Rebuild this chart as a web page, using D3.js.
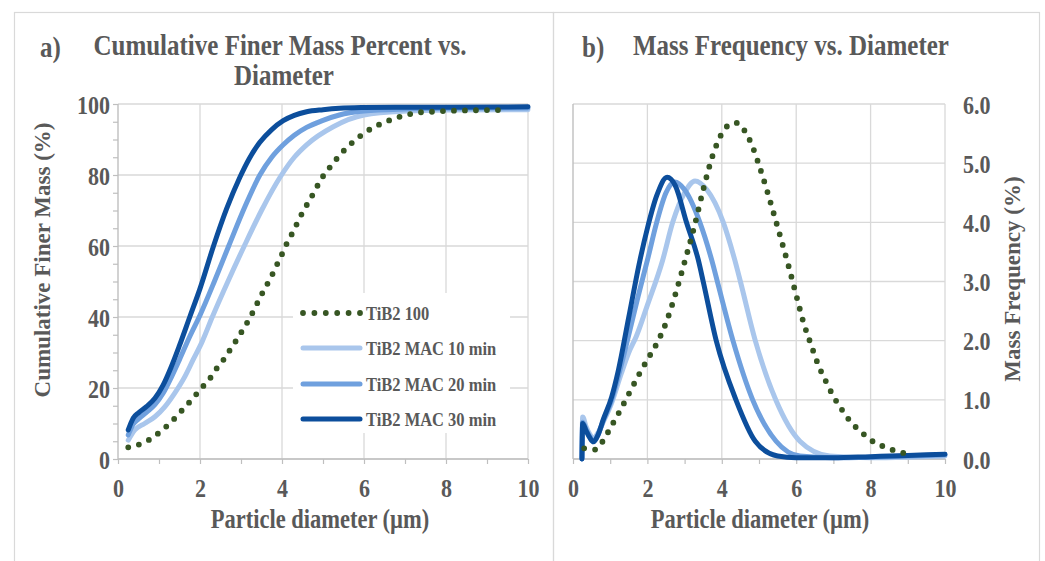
<!DOCTYPE html>
<html><head><meta charset="utf-8">
<script src="https://cdn.jsdelivr.net/npm/d3@7"></script>
<style>body{margin:0;background:#fff}svg{display:block}</style>
</head><body>
<svg id="c" width="1045" height="561"></svg>
<script>
// ---------------- DATA ----------------
const seriesNames = ["TiB2 100", "TiB2 MAC 10 min", "TiB2 MAC 20 min", "TiB2 MAC 30 min"];
const seriesColors = ["#375623", "#a9c6ec", "#6fa0de", "#0c4e9c"];

// a) cumulative finer mass (%) vs diameter (µm)
const cum100 = [[0.25,3.3],[0.49,4.0],[0.75,5.35],[1.0,7.4],[1.22,9.6],[1.42,11.9],[1.63,14.6],[1.83,17.1],[2.01,19.7],[2.22,22.3],[2.38,25.1],[2.57,27.9],[2.73,30.7],[2.89,33.5],[3.04,36.3],[3.19,39.2],[3.33,42.3],[3.46,45.4],[3.6,48.4],[3.74,51.4],[3.87,54.6],[4.0,57.7],[4.12,60.8],[4.26,63.8],[4.39,66.9],[4.52,69.9],[4.68,73],[4.82,76],[4.97,79.1],[5.15,81.9],[5.33,84.5],[5.52,87],[5.74,89.4],[5.97,91.5],[6.21,93.3],[6.49,94.8],[6.76,96],[7.04,96.9],[7.32,97.6],[7.63,97.8],[7.91,98.0],[8.5,98.2],[9.3,98.3]];
const cumMac10 = [[0.25,5.3],[0.41,8.2],[0.65,10],[0.9,11.9],[1.14,14.7],[1.38,18.5],[1.63,23.2],[1.83,27.9],[2.05,33],[2.3,40],[2.7,50.5],[3.1,60.5],[3.5,70],[3.96,79.5],[4.3,85],[4.6,88.5],[5.25,93.6],[6.0,96.9],[7.04,98.0],[8,98.3],[10,98.4]];
const cumMac20 = [[0.25,6.8],[0.37,9.8],[0.5,11.3],[0.7,13.2],[0.9,15.3],[1.1,18.5],[1.3,23],[1.5,28],[1.75,34.5],[2.0,40.5],[2.35,50],[2.7,60],[3.1,71.2],[3.46,80],[3.75,85],[4.03,88.5],[4.3,91.2],[4.6,93.4],[5.0,95.4],[5.4,96.9],[6.0,98.0],[7,98.6],[8,98.8],[10,98.9]];
const cumMac30 = [[0.25,8.2],[0.37,11.5],[0.5,13.0],[0.7,14.8],[0.9,17.1],[1.1,20.8],[1.3,26],[1.5,32],[1.75,40],[2.0,48],[2.33,60],[2.65,70.5],[2.97,79.3],[3.2,84.6],[3.46,89.2],[3.75,92.8],[4.03,95.3],[4.3,96.8],[4.6,97.8],[5.0,98.4],[5.4,98.8],[6.0,99.0],[7,99.1],[8,99.1],[10,99.2]];

// b) mass frequency (%) vs diameter (µm)
const freq100 = [[0.3,0.18],[0.6,0.16],[0.8,0.3],[1.0,0.52],[1.25,0.8],[1.5,1.1],[1.75,1.4],[2.0,1.68],[2.25,1.95],[2.5,2.3],[2.75,2.78],[3.0,3.33],[3.25,3.9],[3.5,4.55],[3.75,5.12],[4.0,5.5],[4.2,5.65],[4.4,5.68],[4.6,5.56],[4.8,5.32],[5.0,4.97],[5.2,4.57],[5.4,4.14],[5.6,3.7],[5.8,3.25],[6.0,2.77],[6.2,2.3],[6.4,1.93],[6.6,1.58],[6.8,1.31],[7.0,1.06],[7.2,0.86],[7.4,0.68],[7.6,0.54],[7.85,0.4],[8.1,0.28],[8.4,0.2],[8.7,0.13],[9.1,0.08]];
const freqMac10 = [[0.24,0],[0.26,0.71],[0.35,0.55],[0.45,0.42],[0.55,0.35],[0.68,0.45],[0.81,0.62],[1.04,0.95],[1.3,1.45],[1.5,1.8],[1.7,2.07],[2.0,2.6],[2.41,3.36],[2.68,4.0],[3.0,4.5],[3.28,4.7],[3.6,4.55],[4.04,4.0],[4.35,3.36],[4.5,3.0],[4.9,2.0],[5.45,1.0],[6.1,0.3],[6.9,0.05],[8,0.02],[9,0.03],[10,0.05]];
const freqMac20 = [[0.24,0],[0.26,0.62],[0.35,0.5],[0.45,0.38],[0.55,0.3],[0.68,0.42],[0.81,0.64],[1.04,1.0],[1.22,1.4],[1.5,2.1],[1.75,2.75],[2.0,3.36],[2.25,4.0],[2.5,4.5],[2.74,4.68],[3.0,4.55],[3.41,4.0],[3.73,3.36],[3.9,2.95],[4.3,2.0],[4.83,1.0],[5.46,0.3],[6.1,0.05],[7,0.02],[8,0.03],[9,0.05],[10,0.07]];
const freqMac30 = [[0.24,0],[0.26,0.6],[0.35,0.48],[0.45,0.36],[0.55,0.29],[0.68,0.42],[0.81,0.66],[1.04,1.05],[1.22,1.5],[1.5,2.4],[1.8,3.36],[2.0,3.9],[2.25,4.45],[2.53,4.76],[2.75,4.62],[3.05,4.0],[3.37,3.36],[3.5,3.0],[3.85,2.0],[4.38,1.0],[4.9,0.3],[5.5,0.05],[6,0.02],[7,0.02],[8,0.04],[9,0.06],[10,0.08]];

const xTicks = [0, 2, 4, 6, 8, 10];
const yTicksA = [0, 20, 40, 60, 80, 100];
const yTicksB = [0, 1, 2, 3, 4, 5, 6];

// ---------------- DRAW ----------------
const svg = d3.select("#c");
const FONT = "'Liberation Serif','Times New Roman',serif";
const TXT = "#595959", GRID = "#d9d9d9", AX = "#bfbfbf";
const SY = 1.17; // vertical stretch of the lettering in the original

svg.append("rect").attr("x",14.5).attr("y",12.5).attr("width",539).attr("height",570).attr("fill","none").attr("stroke",GRID).attr("stroke-width",1.2);
svg.append("rect").attr("x",553.5).attr("y",12.5).attr("width",486).attr("height",570).attr("fill","none").attr("stroke",GRID).attr("stroke-width",1.2);

function text(x, y, s, size, anchor, rot, sy) {
  const tr = rot ? `translate(${x},${y}) rotate(${rot})` : `translate(${x},${y}) scale(1,${sy || SY})`;
  return svg.append("text")
    .attr("transform", tr)
    .attr("text-anchor", anchor || "start")
    .attr("font-family", FONT).attr("font-weight", "bold")
    .attr("font-size", size).attr("fill", TXT).text(s);
}

function styleTicks(g, size, dx, dy, anchor) {
  g.selectAll("text").attr("font-family", FONT).attr("font-weight","bold").attr("font-size", size).attr("fill", TXT)
    .attr("x", null).attr("y", null).attr("dy", null).attr("text-anchor", anchor)
    .attr("transform", `translate(${dx},${dy}) scale(1,${SY})`);
  g.selectAll(".tick line").attr("stroke", AX).attr("stroke-width", 1.2);
  g.select(".domain").remove();
}

const TICK = 22;
function panel(xs, ys, yMax, yGrid, yMinor, xMinor, rightAxis, yFmt) {
  const g = svg.append("g");
  g.selectAll(".hg").data(yGrid).join("line")
    .attr("x1", xs(0)).attr("x2", xs(10)).attr("y1", d => ys(d)).attr("y2", d => ys(d))
    .attr("stroke", GRID).attr("stroke-width", 1.3);
  g.selectAll(".vg").data(xTicks.filter(d => d > 0)).join("line")
    .attr("x1", d => xs(d)).attr("x2", d => xs(d)).attr("y1", ys(yMax)).attr("y2", ys(0))
    .attr("stroke", GRID).attr("stroke-width", 1.3);
  g.append("line").attr("x1", xs(0)).attr("x2", xs(0)).attr("y1", ys(yMax)).attr("y2", ys(0)).attr("stroke", AX).attr("stroke-width", 1.4);
  g.append("line").attr("x1", xs(0)).attr("x2", xs(10)).attr("y1", ys(0)).attr("y2", ys(0)).attr("stroke", AX).attr("stroke-width", 1.4);
  const bx = g.append("g").attr("transform", `translate(0,${ys(0)})`)
    .call(d3.axisBottom(xs).tickValues(xMinor).tickSize(5)
      .tickFormat(d => xTicks.includes(d) ? d : ""));
  styleTicks(bx, TICK, 0, 38, "middle");
  if (!rightAxis) {
    const ly = g.append("g").attr("transform", `translate(${xs(0)},0)`)
      .call(d3.axisLeft(ys).tickValues(yMinor).tickSize(5)
        .tickFormat(d => yGrid.includes(d) ? yFmt(d) : ""));
    styleTicks(ly, TICK, -8, 9, "end");
  } else {
    const ry = g.append("g").attr("transform", `translate(${xs(10)},0)`)
      .call(d3.axisRight(ys).tickValues(yGrid).tickSize(0).tickFormat(yFmt));
    styleTicks(ry, TICK, 18, 9, "start");
  }
  return g;
}

// ---- panel a
const xa = d3.scaleLinear().domain([0, 10]).range([118, 528]);
const ya = d3.scaleLinear().domain([0, 100]).range([459, 104]);
panel(xa, ya, 100, yTicksA, d3.range(0, 101, 5), d3.range(0, 11, 1), false, d => d);

// ---- panel b
const xb = d3.scaleLinear().domain([0, 10]).range([573, 945]);
const yb = d3.scaleLinear().domain([0, 6]).range([459, 104]);
panel(xb, yb, 6, yTicksB, yTicksB, d3.range(0, 11, 1), true, d3.format(".1f"));

function drawSeries(xs, ys, data, i) {
  const line = d3.line().x(d => xs(d[0])).y(d => ys(d[1])).curve(d3.curveMonotoneX);
  const p = svg.append("path").datum(data).attr("d", line).attr("fill", "none")
    .attr("stroke", seriesColors[i]).attr("stroke-linejoin","round");
  if (i === 0) p.attr("stroke-width", 5.8).attr("stroke-dasharray", "0 11").attr("stroke-linecap", "round");
  else p.attr("stroke-width", 5).attr("stroke-linecap", "round");
}
const cumSeries = [cum100, cumMac10, cumMac20, cumMac30];
const freqSeries = [freq100, freqMac10, freqMac20, freqMac30];
[1, 2, 3, 0].forEach(i => drawSeries(xa, ya, cumSeries[i], i));
[1, 2, 3, 0].forEach(i => drawSeries(xb, yb, freqSeries[i], i));

// legend (panel a)
svg.append("rect").attr("x", 293).attr("y", 293).attr("width", 217).attr("height", 140).attr("fill", "#fff");
const legY = [313, 348, 384, 419];
seriesNames.forEach((n, i) => {
  const l = svg.append("line").attr("x1", 303).attr("x2", 360).attr("y1", legY[i]).attr("y2", legY[i])
    .attr("stroke", seriesColors[i]);
  if (i === 0) l.attr("stroke-width", 5.8).attr("stroke-dasharray", "0 11.4").attr("stroke-linecap", "round");
  else l.attr("stroke-width", 5).attr("stroke-linecap", "round");
  text(366, legY[i] + 7, n, 16.5, "start");
});

// titles
text(40, 57, "a)", 25, "start");
text(280, 55, "Cumulative Finer Mass Percent vs.", 25, "middle");
text(284, 85, "Diameter", 25, "middle");
text(582, 57, "b)", 25, "start");
text(633, 55, "Mass Frequency vs. Diameter", 25, "start");

// axis titles
text(50, 260, "Cumulative Finer Mass (%)", 23, "middle", -90);
text(320, 528, "Particle diameter (\u00b5m)", 22.5, "middle");
text(760, 528, "Particle diameter (\u00b5m)", 22.5, "middle");
text(1020, 279, "Mass Frequency (%)", 23, "middle", -90);
</script>
</body></html>
